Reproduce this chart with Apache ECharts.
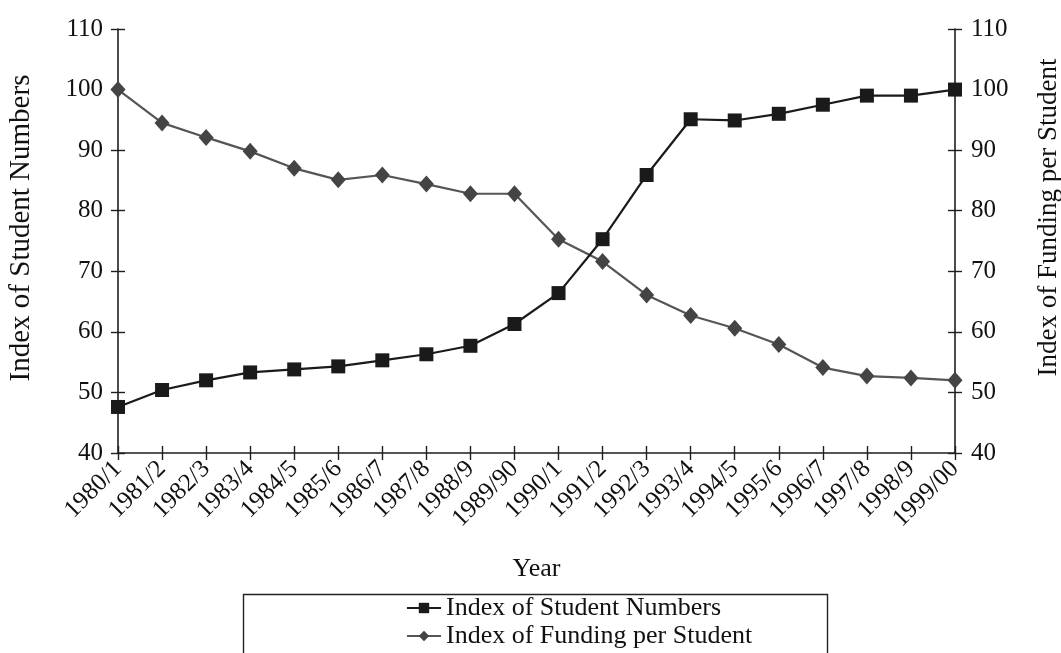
<!DOCTYPE html>
<html>
<head>
<meta charset="utf-8">
<script src="https://cdn.jsdelivr.net/npm/echarts@6/dist/echarts.min.js"></script>
<style>html,body{margin:0;padding:0;background:#fff;}#c{width:1061px;height:653px;}</style>
</head>
<body>
<div id="c"></div>
<script>
var years = ['1980/1','1981/2','1982/3','1983/4','1984/5','1985/6','1986/7','1987/8','1988/9','1989/90','1990/1','1991/2','1992/3','1993/4','1994/5','1995/6','1996/7','1997/8','1998/9','1999/00'];
var studentNumbers = [47.6, 50.4, 52.0, 53.3, 53.8, 54.3, 55.3, 56.3, 57.7, 61.3, 66.4, 75.3, 85.9, 95.1, 94.9, 96.0, 97.5, 99.0, 99.0, 100.0];
var fundingPerStudent = [100.0, 94.5, 92.1, 89.8, 87.0, 85.1, 85.9, 84.4, 82.8, 82.8, 75.3, 71.6, 66.1, 62.7, 60.6, 57.9, 54.1, 52.7, 52.4, 52.0];
var yTicks = {min: 40, max: 110, interval: 10};

var FONT = '"Liberation Serif", "Times New Roman", serif';
var AX = '#1e1e1e';
var chart = echarts.init(document.getElementById('c'), null, {renderer: 'canvas'});

function yAx(pos, withLabels, inside, name, nameGap, pad, nameSize) {
  return {
    type: 'value', position: pos, min: yTicks.min, max: yTicks.max, interval: yTicks.interval,
    name: withLabels ? name : '', nameLocation: 'middle', nameGap: nameGap, nameRotate: 90,
    nameTextStyle: {fontFamily: FONT, fontSize: nameSize || 27, color: '#111', padding: pad},
    axisLine: {show: withLabels, lineStyle: {color: AX, width: 1.6}},
    axisTick: {show: true, inside: inside, length: 7, lineStyle: {color: AX, width: 1.4}},
    axisLabel: {show: withLabels, fontFamily: FONT, fontSize: 25, color: '#111', margin: pos === 'left' ? 15 : 16},
    splitLine: {show: false}
  };
}
function xAx(withLabels, inside) {
  return {
    type: 'category', data: years, boundaryGap: false, position: 'bottom',
    name: withLabels ? 'Year' : '', nameLocation: 'middle', nameGap: 103,
    nameTextStyle: {fontFamily: FONT, fontSize: 26, color: '#111'},
    axisLine: {show: withLabels, lineStyle: {color: AX, width: 1.6}},
    axisTick: {show: true, inside: inside, length: 7, alignWithLabel: true, lineStyle: {color: AX, width: 1.4}},
    axisLabel: {show: withLabels, rotate: 45, fontFamily: FONT, fontSize: 25, color: '#111', margin: 12, interval: 0},
    splitLine: {show: false}
  };
}

chart.setOption({
  backgroundColor: '#fff',
  animation: false,
  grid: {left: 118, right: 106, top: 29, bottom: 200, containLabel: false, outerBoundsMode: 'none'},
  xAxis: [xAx(true, false), xAx(false, true)],
  yAxis: [
    yAx('left', true, false, 'Index of Student Numbers', 82, [0, 0, 0, 26], 29),
    yAx('right', true, false, 'Index of Funding per Student', 80, [0, 0, 0, 47], 27),
    yAx('left', false, true, '', 0, 0),
    yAx('right', false, true, '', 0, 0)
  ],
  legend: {
    orient: 'vertical', left: 406, top: 595, height: 58, padding: 0, itemGap: 2, itemWidth: 34, itemHeight: 13,
    textStyle: {fontFamily: FONT, fontSize: 26, lineHeight: 26, color: '#111'},
    data: ['Index of Student Numbers', 'Index of Funding per Student']
  },
  graphic: [{
    type: 'rect', left: 241, top: 592, shape: {width: 584, height: 80},
    style: {fill: 'none', stroke: '#222', lineWidth: 1.4}, silent: true, z: -1
  }],
  series: [
    {
      name: 'Index of Student Numbers', type: 'line', xAxisIndex: 0, yAxisIndex: 0,
      data: studentNumbers, symbol: 'rect', symbolSize: 14,
      lineStyle: {color: '#1a1a1a', width: 2.2}, itemStyle: {color: '#1a1a1a'}, z: 3
    },
    {
      name: 'Index of Funding per Student', type: 'line', xAxisIndex: 0, yAxisIndex: 1,
      data: fundingPerStudent, symbol: 'diamond', symbolSize: [15, 17],
      lineStyle: {color: '#555', width: 2.2}, itemStyle: {color: '#444'}, z: 2
    }
  ]
});
</script>
</body>
</html>
